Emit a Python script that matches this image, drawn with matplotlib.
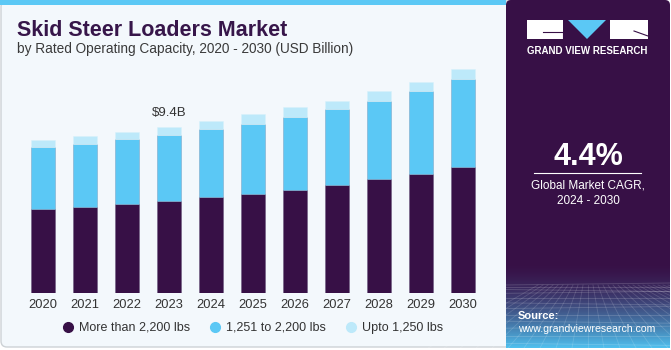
import matplotlib.pyplot as plt
import numpy as np
from matplotlib.patches import FancyBboxPatch, Rectangle, Polygon
from matplotlib.lines import Line2D

years = ['2020', '2021', '2022', '2023', '2024', '2025', '2026', '2027', '2028', '2029', '2030']
more_2200 = [4.77, 4.89, 5.06, 5.19, 5.41, 5.61, 5.83, 6.13, 6.43, 6.76, 7.13]
mid_1251_2200 = [3.51, 3.55, 3.68, 3.76, 3.85, 3.98, 4.13, 4.30, 4.47, 4.68, 5.00]
upto_1250 = [0.40, 0.47, 0.40, 0.47, 0.49, 0.57, 0.57, 0.47, 0.51, 0.53, 0.53]
series_names = ['More than 2,200 lbs', '1,251 to 2,200 lbs', 'Upto 1,250 lbs']

dark = '#371046'
blue = '#5BC8F5'
light = '#BDE9FA'

plt.rcParams['font.family'] = ['Liberation Sans', 'DejaVu Sans']

fig = plt.figure(figsize=(6.71, 3.5), dpi=100)
fig.patch.set_facecolor('white')

# background / decoration layer in pixel coords
bg = fig.add_axes([0, 0, 1, 1], zorder=0)
bg.set_xlim(0, 671)
bg.set_ylim(350, 0)
bg.axis('off')

bg.add_patch(FancyBboxPatch((1, 1), 520, 346, boxstyle='round,pad=0,rounding_size=6',
                            facecolor='#F3F8FC', edgecolor='#CDD2D6', linewidth=1))
bg.add_patch(Rectangle((0, 0), 506, 5, facecolor=blue, edgecolor='none'))

# right panel
bg.add_patch(FancyBboxPatch((506, 0), 164, 348, boxstyle='round,pad=0,rounding_size=5',
                            facecolor=dark, edgecolor='none'))
grad = np.linspace(0, 1, 100)[:, None]
c0 = np.array([0x37, 0x10, 0x46]) / 255
c1 = np.array([0x4F, 0xC0, 0xEE]) / 255
img = c0 + (c1 - c0) * (grad ** 1.6)[:, :, None]
img = np.repeat(img, 2, axis=1)
bg.imshow(img, extent=(506, 670, 348, 262), aspect='auto', zorder=1)
# faint perspective grid
for k in range(12):
    yy = 285 + (k ** 1.5) * 1.6
    bg.plot([506, 670], [yy, yy + (k % 3 - 1) * 2], color='white', alpha=0.18, lw=0.6, zorder=2)
for k in range(-10, 22):
    x0 = 588 + k * 5
    x1 = 588 + k * 16
    bg.plot([x0, x1], [285, 348], color='white', alpha=0.15, lw=0.6, zorder=2)
bg.set_xlim(0, 671)
bg.set_ylim(350, 0)

# logo
bg.add_patch(Rectangle((527, 20), 36, 19, facecolor='white', edgecolor='none', zorder=3))
bg.plot([543, 563], [32, 32], color=dark, lw=0.8, zorder=4)
bg.plot([563, 563], [32, 39], color=dark, lw=0.8, zorder=4)
bg.add_patch(Polygon([(568, 20), (606, 20), (587, 39)], closed=True, facecolor=blue,
                     edgecolor='none', zorder=3))
bg.add_patch(Rectangle((610, 20), 38, 19, facecolor='white', edgecolor='none', zorder=3))
bg.plot([634, 648], [31, 36], color=dark, lw=0.8, zorder=4)
bg.text(587.5, 51, 'GRAND VIEW RESEARCH', color='white', fontsize=7, fontweight='bold',
        ha='center', va='center', zorder=4)

bg.text(588, 157, '4.4%', color='white', fontsize=22, fontweight='bold',
        ha='center', va='center', zorder=4)
bg.plot([534, 641], [173, 173], color='white', lw=0.8, zorder=4)
bg.text(588, 186, 'Global Market CAGR,', color='white', fontsize=8.5,
        ha='center', va='center', zorder=4)
bg.text(588, 201, '2024 - 2030', color='white', fontsize=8.5,
        ha='center', va='center', zorder=4)
bg.text(518, 316, 'Source:', color='white', fontsize=8, fontweight='bold',
        ha='left', va='center', zorder=4)
bg.text(518, 329, 'www.grandviewresearch.com', color='white', fontsize=7.6,
        ha='left', va='center', zorder=4)

# titles
bg.text(17, 36, 'Skid Steer Loaders Market', color='#37164A', fontsize=15.5,
        fontweight='bold', ha='left', va='baseline')
bg.text(17, 53, 'by Rated Operating Capacity, 2020 - 2030 (USD Billion)', color='#3A3A3A',
        fontsize=9.8, ha='left', va='baseline')

# chart
ax = fig.add_axes([22 / 671, 57 / 350, 462 / 671, 233 / 350], zorder=2)
ax.set_facecolor('none')
x = np.arange(len(years))
w = 0.57
b1 = np.array(more_2200)
b2 = b1 + np.array(mid_1251_2200)
ax.bar(x, more_2200, w, color=dark, edgecolor='#6E5A80', linewidth=0.4)
ax.bar(x, mid_1251_2200, w, bottom=b1, color=blue, edgecolor='#7FA8C8', linewidth=0.4)
ax.bar(x, upto_1250, w, bottom=b2, color=light, edgecolor='#D8F1FB', linewidth=0.4)

total = b2 + np.array(upto_1250)
ax.text(x[3], total[3] + 0.45, '$9.4B', ha='center', va='bottom', fontsize=9.5, color='#333333')

ax.set_xlim(-0.5, len(years) - 0.5)
ax.set_ylim(0, 233 / 17.66)
ax.set_xticks(x)
ax.set_xticklabels(years, fontsize=9.3, color='#333333')
ax.tick_params(axis='x', length=0, pad=4)
ax.set_yticks([])
for s in ax.spines.values():
    s.set_visible(False)

handles = [Line2D([], [], marker='o', linestyle='none', markersize=7, color=c)
           for c in (dark, blue, light)]
fig.legend(handles, series_names, loc='center', bbox_to_anchor=(253 / 671, 22 / 350),
           ncol=3, frameon=False, fontsize=9, handlelength=0.8, handletextpad=0.5,
           columnspacing=1.6, labelcolor='#333333')

fig.savefig('out.png', dpi=100, facecolor=fig.get_facecolor())
